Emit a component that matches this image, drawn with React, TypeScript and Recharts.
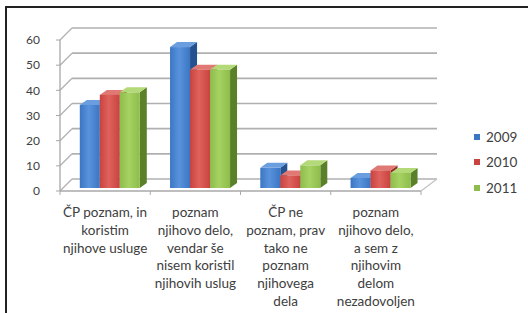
import React from 'react';
import { BarChart, Bar, XAxis, YAxis, CartesianGrid, Legend } from 'recharts';

const categories = [
  'ČP poznam, in\nkoristim\nnjihove usluge',
  'poznam\nnjihovo delo,\nvendar še\nnisem koristil\nnjihovih uslug',
  'ČP ne\npoznam, prav\ntako ne\npoznam\nnjihovega\ndela',
  'poznam\nnjihovo delo,\na sem z\nnjihovim\ndelom\nnezadovoljen',
];
const values2009 = [33, 56, 8, 4];
const values2010 = [37, 47, 5, 7];
const values2011 = [38, 47, 9, 6];
const yTicks = [0, 10, 20, 30, 40, 50, 60];

interface SeriesStyle {
  key: string;
  label: string;
  front: string;
  light: string;
  side: string;
  top: string;
}

const seriesList: SeriesStyle[] = [
  { key: 'y2009', label: '2009', front: '#3a76c4', light: '#5a93dc', side: '#24528f', top: '#6a9edf' },
  { key: 'y2010', label: '2010', front: '#c9433f', light: '#df625d', side: '#8f2b28', top: '#e07873' },
  { key: 'y2011', label: '2011', front: '#8dbd4c', light: '#a6d262', side: '#5a8128', top: '#b3d978' },
];

const data = categories.map((name, i) => ({
  name,
  y2009: values2009[i],
  y2010: values2010[i],
  y2011: values2011[i],
}));

// depth of the fake 3d
const DX = 7;
const DY = 5;
const SHIFT_X = 4;
const SHIFT_Y = 3;
const WALL_L = 12;
const WALL_R = 16;
const WALL_Y = 12;
const FONT = 'Lato, "Open Sans", sans-serif';

const makeBar = (s: SeriesStyle) => (props: any) => {
  const { x, y, width, height } = props;
  if (width == null || height == null) return <g />;
  const x0 = x + SHIFT_X;
  const top = y - SHIFT_Y;
  const bottom = y + height - SHIFT_Y;
  const w = width;
  const gid = `grad-${s.key}`;
  return (
    <g>
      <defs>
        <linearGradient id={gid} x1="0" y1="0" x2="1" y2="0">
          <stop offset="0%" stopColor={s.front} />
          <stop offset="45%" stopColor={s.light} />
          <stop offset="100%" stopColor={s.front} />
        </linearGradient>
      </defs>
      <polygon
        points={`${x0 + w},${top} ${x0 + w + DX},${top - DY} ${x0 + w + DX},${bottom - DY} ${x0 + w},${bottom}`}
        fill={s.side}
      />
      <polygon
        points={`${x0},${top} ${x0 + DX},${top - DY} ${x0 + w + DX},${top - DY} ${x0 + w},${top}`}
        fill={s.top}
      />
      <rect x={x0} y={top} width={w} height={bottom - top} fill={`url(#${gid})`} />
    </g>
  );
};

const GridLine = (props: any) => {
  const { x1, y1, x2, y, height } = props;
  const isFloor = y != null && height != null && Math.abs(y1 - (y + height)) < 1;
  const stroke = '#b0b0b0';
  return (
    <g>
      <line x1={x1} y1={y1} x2={x1 + WALL_L} y2={y1 - WALL_Y} stroke={stroke} strokeWidth={1.3} />
      <line x1={x1 + WALL_L} y1={y1 - WALL_Y} x2={x2 + WALL_R} y2={y1 - WALL_Y} stroke={stroke} strokeWidth={1.6} />
      {isFloor && (
        <line x1={x2} y1={y1} x2={x2 + WALL_R} y2={y1 - WALL_Y} stroke="#c4c4c4" strokeWidth={1.3} />
      )}
    </g>
  );
};

const CategoryTick = (props: any) => {
  const { x, y, payload, index, visibleTicksCount } = props;
  const half = payload?.offset ?? 45;
  const lines = String(payload.value).split('\n');
  return (
    <g>
      <line x1={x - half} y1={y} x2={x - half} y2={y + 4} stroke="#aaa" />
      {index === (visibleTicksCount ?? 4) - 1 && (
        <line x1={x + half} y1={y} x2={x + half} y2={y + 4} stroke="#aaa" />
      )}
      {lines.map((line, i) => (
        <text
          key={i}
          x={x}
          y={y + 26 + i * 17.8}
          textAnchor="middle"
          fontSize={13.5}
          fontFamily={FONT}
          fill="#404040"
        >
          {line}
        </text>
      ))}
    </g>
  );
};

const LegendBox = () => (
  <div style={{ fontFamily: FONT, fontSize: 13.5, color: '#404040' }}>
    {seriesList.map((s) => (
      <div key={s.key} style={{ display: 'flex', alignItems: 'center', height: 25.5 }}>
        <div style={{ width: 6, height: 6, background: s.front, marginRight: 6 }} />
        <span>{s.label}</span>
      </div>
    ))}
  </div>
);

export default function App() {
  return (
    <div style={{ position: 'absolute', left: 0, top: 0, width: 528, height: 313, background: '#fff' }}>
      <div
        style={{
          position: 'absolute',
          left: 5,
          top: 6,
          width: 523,
          height: 307,
          borderLeft: '2px solid #222',
          borderTop: '2px solid #222',
        }}
      />
      <div style={{ position: 'absolute', left: 0, top: 0 }}>
        <BarChart
          width={528}
          height={313}
          data={data}
          margin={{ top: 40, right: 47, bottom: 22, left: 8 }}
          barCategoryGap="17.5%"
          barGap={0}
        >
          <CartesianGrid vertical={false} horizontal={(p: any) => <GridLine {...p} />} />
          <XAxis
            dataKey="name"
            height={100}
            interval={0}
            tickSize={0}
            tickMargin={0}
            tickLine={false}
            axisLine={{ stroke: '#a8a8a8', strokeWidth: 1.3 }}
            tick={<CategoryTick />}
          />
          <YAxis
            width={52}
            domain={[0, 60]}
            ticks={yTicks}
            interval={0}
            tickSize={4}
            tickMargin={16}
            axisLine={{ stroke: '#a8a8a8', strokeWidth: 1.3 }}
            tickLine={{ stroke: '#a8a8a8' }}
            tick={{ fill: '#404040', fontSize: 12, fontFamily: FONT }}
          />
          <Legend
            layout="vertical"
            align="right"
            verticalAlign="middle"
            content={<LegendBox />}
            wrapperStyle={{ position: 'absolute', left: 474, top: 124, width: 60 }}
          />
          {seriesList.map((s) => (
            <Bar
              key={s.key}
              dataKey={s.key}
              name={s.label}
              fill={s.front}
              shape={makeBar(s)}
              isAnimationActive={false}
            />
          ))}
        </BarChart>
      </div>
    </div>
  );
}
